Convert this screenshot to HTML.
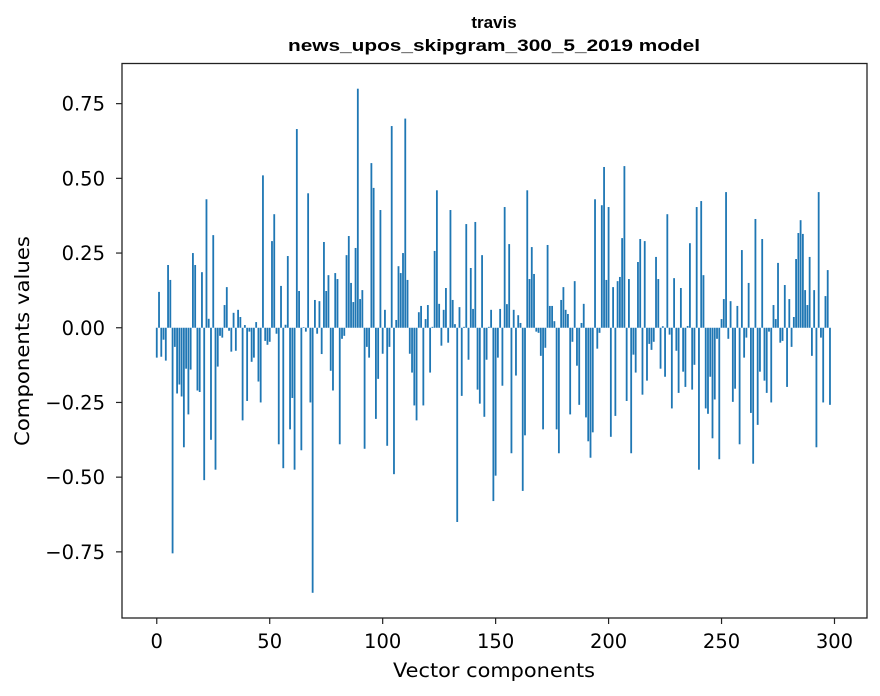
<!DOCTYPE html>
<html><head><meta charset="utf-8"><style>
html,body{margin:0;padding:0;background:#fff}
svg{display:block;font-family:"DejaVu Sans","Liberation Sans",sans-serif}
</style></head><body>
<svg id="chart" width="880" height="696" viewBox="0 0 880 696" xmlns="http://www.w3.org/2000/svg">
<rect width="880" height="696" fill="#fff"/>
<g font-weight="bold" font-size="17" text-anchor="middle" fill="#000" font-family="Liberation Sans, Arial, sans-serif">
<text x="494" y="28">travis</text>
<text x="494" y="51" textLength="412" lengthAdjust="spacingAndGlyphs">news_upos_skipgram_300_5_2019 model</text>
</g>
<g id="bars"></g>
<g id="xaxis"></g>
<g id="yaxis"></g>
<rect x="122" y="63.5" width="745" height="554.5" fill="none" stroke="#222" stroke-width="1.3"/>
<text x="494" y="677" text-anchor="middle" font-size="19.5" textLength="202" lengthAdjust="spacingAndGlyphs">Vector components</text>
<text transform="translate(29,341) rotate(-90)" text-anchor="middle" font-size="19.5" textLength="210" lengthAdjust="spacingAndGlyphs">Components values</text>
</svg>
<script>
const values = [-0.10,0.12,-0.097,-0.04,-0.11,0.21,0.16,-0.755,-0.064,-0.22,
-0.19,-0.23,-0.40,-0.137,-0.29,-0.14,0.25,0.21,-0.21,-0.215,
0.186,-0.51,0.43,0.03,-0.375,0.31,-0.475,-0.13,-0.027,-0.033,
0.076,0.136,-0.01,-0.08,0.05,-0.077,0.06,0.036,-0.31,0.009,
-0.245,-0.013,-0.114,-0.10,0.019,-0.18,-0.25,0.51,-0.044,-0.057,
-0.047,0.29,0.38,-0.02,-0.39,0.14,-0.47,0.01,0.24,-0.34,
-0.235,-0.475,0.665,0.123,-0.41,0.002,-0.013,0.45,-0.25,-0.887,
0.093,-0.02,0.089,-0.088,0.287,0.123,0.176,-0.144,-0.21,0.183,
0.163,-0.39,-0.037,-0.027,0.243,0.307,0.15,0.086,0.267,0.80,
0.096,0.126,-0.405,-0.064,-0.10,0.551,0.468,-0.305,-0.171,0.394,
-0.087,0.06,-0.395,-0.064,0.675,-0.49,0.026,0.206,0.183,0.25,
0.70,0.16,-0.087,-0.15,-0.26,-0.31,0.052,0.073,-0.26,0.029,
0.076,-0.15,0.003,0.257,0.46,0.08,-0.06,0.06,0.133,-0.05,
0.394,0.093,0.012,-0.65,0.069,-0.228,0.003,0.347,-0.107,0.2,
0.063,0.354,-0.207,-0.254,0.243,-0.298,-0.107,0.003,0.06,-0.58,
-0.495,-0.10,0.063,-0.194,0.404,0.079,0.28,-0.42,0.06,-0.16,
0.042,0.016,-0.546,-0.36,0.46,0.163,0.27,0.18,-0.013,-0.017,
-0.094,-0.34,-0.067,0.277,0.073,0.073,0.022,-0.34,-0.42,0.093,
0.136,0.06,0.046,-0.29,-0.047,0.156,-0.127,-0.258,0.016,0.08,
-0.30,-0.38,-0.435,-0.35,0.43,-0.07,-0.017,0.41,0.538,0.16,
0.404,-0.365,0.136,-0.295,0.156,0.17,0.30,0.541,-0.245,0.163,
-0.42,-0.09,-0.15,0.22,0.297,-0.224,0.29,-0.177,-0.054,-0.074,
-0.047,0.237,0.163,-0.137,0.005,-0.164,0.38,-0.023,-0.27,0.166,
-0.077,-0.218,0.133,-0.147,-0.198,0.006,0.283,-0.207,-0.124,0.404,
-0.475,0.424,0.176,-0.27,-0.288,-0.164,-0.37,-0.24,-0.037,-0.44,
0.029,0.096,0.454,-0.037,0.089,-0.248,-0.204,0.073,-0.39,0.26,
-0.10,-0.033,0.15,-0.285,-0.455,0.364,-0.325,-0.147,0.297,-0.177,
-0.218,-0.013,-0.25,0.076,0.029,0.217,-0.05,-0.044,0.143,-0.198,
0.096,-0.064,0.036,0.23,0.317,0.36,0.314,0.126,0.076,0.237,
-0.094,0.126,-0.40,0.454,-0.033,-0.25,0.106,0.193,-0.258];
const xTicks = [0,50,100,150,200,250,300];
const yTicks = [-0.75,-0.5,-0.25,0,0.25,0.5,0.75];
const yTickLabels = ["\u22120.75","\u22120.50","\u22120.25","0.00","0.25","0.50","0.75"];

const NS="http://www.w3.org/2000/svg";
const L=122,R=867,T=63.5,B=618;
const xMin=-15.39,xMax=314.39;
const vmin=Math.min(...values),vmax=Math.max(...values);
const pad=(vmax-vmin)*0.05;
const yMin=vmin-pad,yMax=vmax+pad;
function xs(v){return L+(v-xMin)/(xMax-xMin)*(R-L);}
function ys(v){return B-(v-yMin)/(yMax-yMin)*(B-T);}
function mk(tag,attrs,parent){const e=document.createElementNS(NS,tag);for(const k in attrs)e.setAttribute(k,attrs[k]);parent.appendChild(e);return e;}

const bars=document.getElementById('bars');
values.forEach((v,i)=>{
  const x0=xs(i-0.4),x1=xs(i+0.4);
  const y0=ys(Math.max(v,0)),y1=ys(Math.min(v,0));
  const r=mk('rect',{x:x0,y:y0,width:x1-x0,height:Math.max(y1-y0,0.01),fill:'#1f77b4'},bars);
  
  
});
const xa=document.getElementById('xaxis');
xTicks.forEach(t=>{
  const x=xs(t);
  const l=mk('line',{x1:x,x2:x,y1:B,y2:B+6,stroke:'#222','stroke-width':1.2},xa);
  
  
  const tx=mk('text',{x:x,y:648,'text-anchor':'middle','font-size':19.5},xa);
  tx.textContent=String(t);
  
  
});
const ya=document.getElementById('yaxis');
yTicks.forEach((t,i)=>{
  const y=ys(t);
  const l=mk('line',{x1:L-6,x2:L,y1:y,y2:y,stroke:'#222','stroke-width':1.2},ya);
  
  
  const tx=mk('text',{x:105,y:y+7,'text-anchor':'end','font-size':19.5},ya);
  tx.textContent=yTickLabels[i];
  
  
});
</script>
</body></html>
